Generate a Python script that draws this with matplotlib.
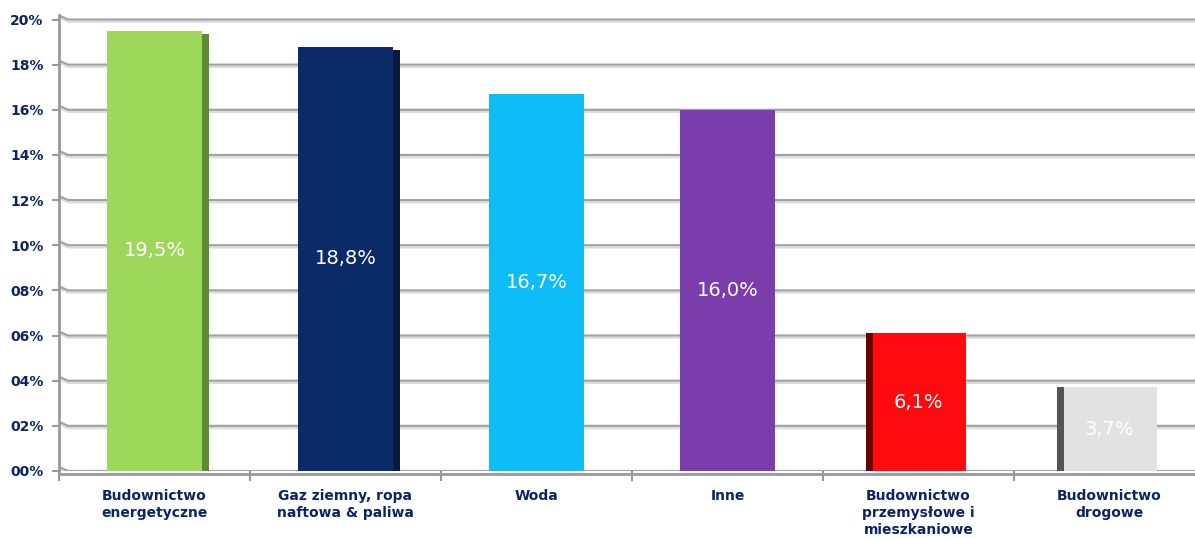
import matplotlib.pyplot as plt
import matplotlib.transforms as mtransforms
import numpy as np

# data
categories = ['Budownictwo\nenergetyczne', 'Gaz ziemny, ropa\nnaftowa & paliwa', 'Woda', 'Inne',
              'Budownictwo\nprzemysłowe i\nmieszkaniowe', 'Budownictwo\ndrogowe']
values = [19.5, 18.8, 16.7, 16.0, 6.1, 3.7]
value_labels = ['19,5%', '18,8%', '16,7%', '16,0%', '6,1%', '3,7%']
front_colors = ['#9ED85A', '#0B2A68', '#0EBCF8', '#7B3DAC', '#FF0A0F', '#E2E2E2']
side_colors = ['#5E8A35', '#061A40', '#0EBCF8', '#7B3DAC', '#6B0000', '#555555']
side_pos = ['right', 'right', 'none', 'none', 'left', 'left']
yticks = [0, 2, 4, 6, 8, 10, 12, 14, 16, 18, 20]

navy = '#0B2463'
fig = plt.figure(figsize=(11.95, 5.38), dpi=100)
ax = fig.add_axes([59 / 1195, 67 / 538, 1136 / 1195, 456 / 538])

x = np.arange(len(values))
bw = 0.5
side_w = 7 / 191

# grid lines with small slant near axis
trans = mtransforms.blended_transform_factory(ax.transAxes, ax.transData)
for v in yticks:
    ax.plot([0, 9 / 1136, 1], [v + 0.1, v - 0.1, v - 0.1], color='#DCDCDC', lw=1.5, transform=trans,
            zorder=1, solid_capstyle='butt')
    ax.plot([0, 9 / 1136, 1], [v + 0.18, v, v], color='#A3A3A3', lw=1.6, transform=trans,
            zorder=1, solid_capstyle='butt')

ax.bar(x, values, width=bw, color=front_colors, zorder=3)
for xi, v, sc, sp in zip(x, values, side_colors, side_pos):
    if sp == 'right':
        ax.bar(xi + bw / 2 + side_w / 2, v - 0.15, width=side_w, color=sc, zorder=2)
    elif sp == 'left':
        ax.bar(xi - bw / 2 - side_w / 2 + 0.01, v, width=side_w, color=sc, zorder=4)

for xi, v, lab in zip(x, values, value_labels):
    ax.text(xi, v / 2, lab, ha='center', va='center', color='white', fontsize=14,
            family='DejaVu Sans', zorder=5)

ax.set_xlim(-0.5, -0.5 + 1136 / 191)
ax.set_ylim(0, 20.2)
ax.set_yticks(yticks)
ax.set_yticklabels(['%02d%%' % t for t in yticks], color=navy, fontweight='bold', fontsize=10)
ax.set_xticks(x)
ax.set_xticklabels(categories, color=navy, fontweight='bold', fontsize=10, linespacing=1.25)
ax.tick_params(axis='x', length=0, pad=13)
ax.tick_params(axis='y', length=5, width=1.5, color='#999999', pad=6)

# minor ticks on category boundaries
ax.set_xticks(np.arange(len(values)) - 0.5, minor=True)
ax.tick_params(axis='x', which='minor', length=7, width=1.5, color='#999999')

for s in ['top', 'right', 'bottom']:
    ax.spines[s].set_visible(False)
ax.spines['left'].set_color('#999999')
ax.spines['left'].set_linewidth(2)
ax.plot([0, 1], [-0.15, -0.15], color='#999999', lw=2, transform=trans, clip_on=False, zorder=2)

fig.savefig('out.png', dpi=100)
